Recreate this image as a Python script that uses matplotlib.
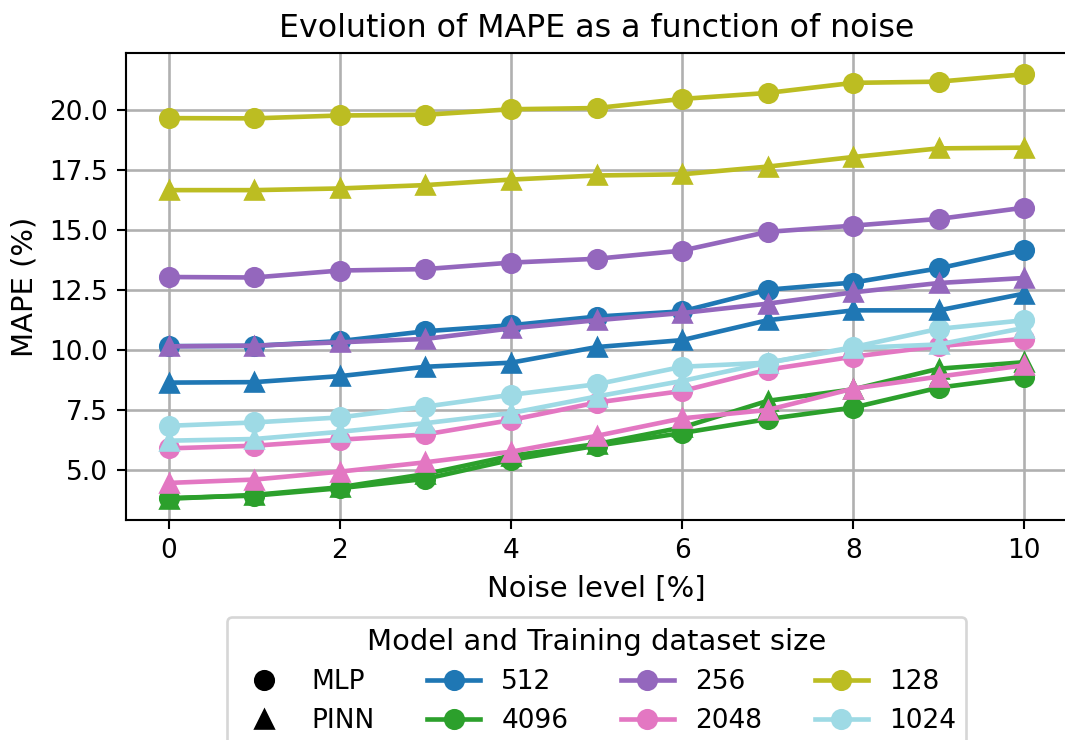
import matplotlib
matplotlib.use("Agg")
import matplotlib.pyplot as plt
from matplotlib.lines import Line2D

noise = [0, 1, 2, 3, 4, 5, 6, 7, 8, 9, 10]

sizes = ["4096", "2048", "1024", "512", "256", "128"]
colors = {"512": "#1f77b4", "4096": "#2ca02c", "256": "#9467bd",
          "2048": "#e377c2", "128": "#bcbd22", "1024": "#9edae5"}

mlp_128 = [19.68, 19.67, 19.79, 19.82, 20.05, 20.10, 20.48, 20.73, 21.15, 21.20, 21.51]
pinn_128 = [16.68, 16.68, 16.75, 16.89, 17.12, 17.29, 17.34, 17.66, 18.06, 18.42, 18.45]
mlp_256 = [13.06, 13.04, 13.33, 13.39, 13.66, 13.82, 14.16, 14.94, 15.20, 15.48, 15.95]
pinn_256 = [10.17, 10.20, 10.34, 10.48, 10.92, 11.26, 11.56, 11.95, 12.42, 12.81, 13.02]
mlp_512 = [10.18, 10.19, 10.39, 10.80, 11.05, 11.41, 11.63, 12.53, 12.83, 13.42, 14.19]
pinn_512 = [8.66, 8.68, 8.93, 9.32, 9.49, 10.14, 10.43, 11.26, 11.67, 11.67, 12.37]
mlp_1024 = [6.86, 7.00, 7.21, 7.66, 8.15, 8.59, 9.32, 9.49, 10.14, 10.90, 11.26]
pinn_1024 = [6.24, 6.31, 6.61, 6.97, 7.39, 8.08, 8.73, 9.49, 10.10, 10.25, 10.94]
mlp_2048 = [5.92, 6.03, 6.28, 6.50, 7.10, 7.83, 8.31, 9.20, 9.74, 10.18, 10.49]
pinn_2048 = [4.48, 4.62, 4.95, 5.34, 5.78, 6.44, 7.17, 7.52, 8.41, 8.91, 9.38]
mlp_4096 = [3.85, 3.95, 4.26, 4.65, 5.44, 6.03, 6.56, 7.14, 7.62, 8.45, 8.91]
pinn_4096 = [3.82, 3.98, 4.30, 4.85, 5.61, 6.10, 6.79, 7.90, 8.38, 9.24, 9.51]

mlp = {"128": mlp_128, "256": mlp_256, "512": mlp_512,
       "1024": mlp_1024, "2048": mlp_2048, "4096": mlp_4096}
pinn = {"128": pinn_128, "256": pinn_256, "512": pinn_512,
        "1024": pinn_1024, "2048": pinn_2048, "4096": pinn_4096}

legend_order = ["512", "4096", "256", "2048", "128", "1024"]

DPI = 190
fig = plt.figure(figsize=(1065 / DPI, 740 / DPI), dpi=DPI)
ax = fig.add_axes([0.1183, 0.2973, 0.8837, 0.6311])

LW = 1.75
MS = 7.0
for s in sizes:
    ax.plot(noise, pinn[s], color=colors[s], marker="^", lw=LW, ms=MS)
    ax.plot(noise, mlp[s], color=colors[s], marker="o", lw=LW, ms=MS)

ax.grid(True, color="#b0b0b0", lw=1.0)
ax.set_axisbelow(True)
ax.tick_params(labelsize=10)
ax.set_title("Evolution of MAPE as a function of noise", fontsize=12)
ax.set_xlabel("Noise level [%]", fontsize=11)
ax.set_ylabel("MAPE (%)", fontsize=11)

handles = [Line2D([], [], color="k", marker="o", ls="None", ms=MS),
           Line2D([], [], color="k", marker="^", ls="None", ms=MS)]
labels = ["MLP", "PINN"]
for s in legend_order:
    handles.append(Line2D([], [], color=colors[s], marker="o", lw=LW, ms=MS))
    labels.append(s)

ax.legend(handles, labels, loc="upper center", bbox_to_anchor=(0.5, -0.2077),
          borderaxespad=0, ncol=4, fontsize=10,
          title="Model and Training dataset size", title_fontsize=11)

fig.savefig("out.png", dpi=DPI)
